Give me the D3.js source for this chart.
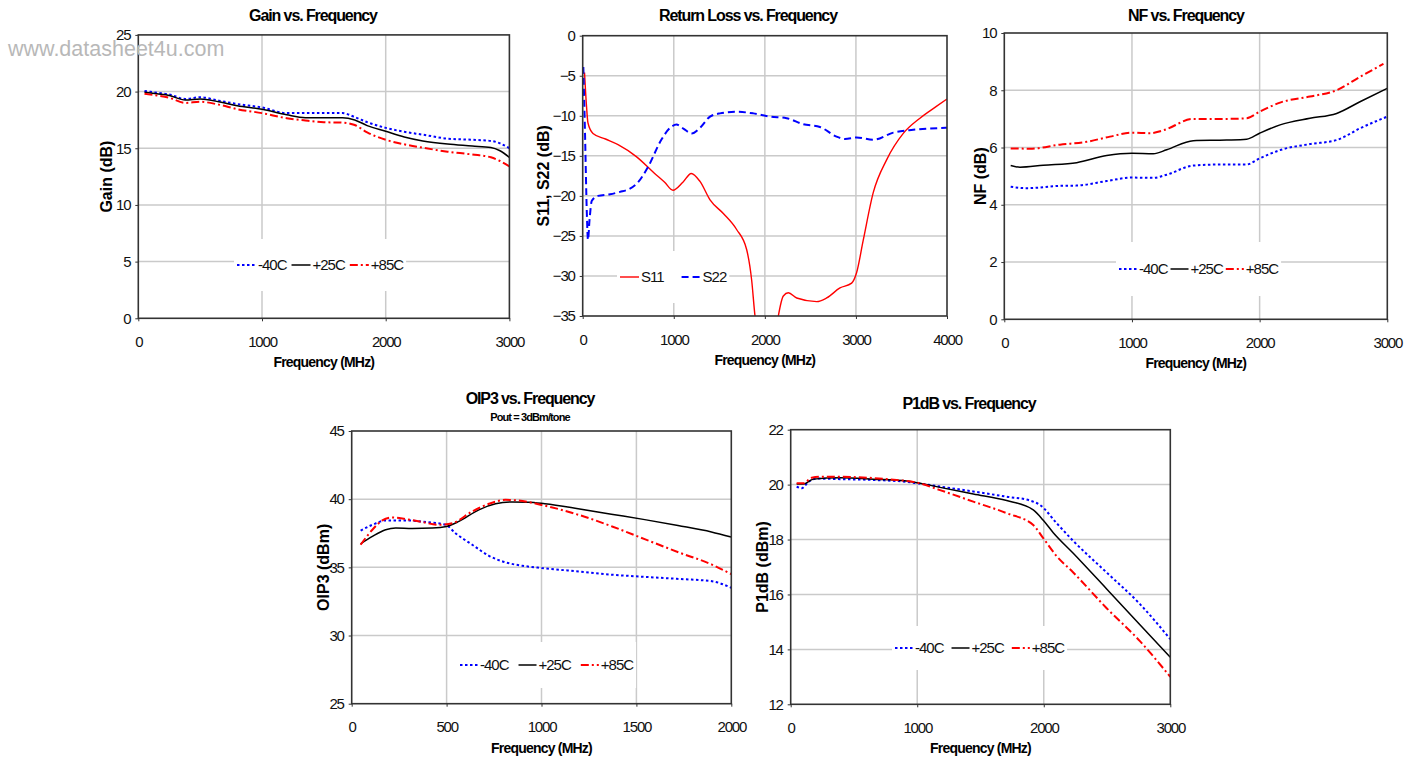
<!DOCTYPE html>
<html><head><meta charset="utf-8">
<script src="https://cdn.jsdelivr.net/npm/d3@7"></script>
<style>
body{margin:0;background:#fff}
svg{display:block}
text{font-family:"Liberation Sans",Arial,Helvetica,sans-serif}
</style>
</head><body>
<svg id="c" width="1414" height="760"></svg>
<script>
// ---------- DATA ----------
// Gain vs Frequency
const gainFreq = [50,150,250,380,500,650,800,1000,1200,1350,1500,1650,1750,1850,2000,2150,2300,2500,2700,2850,2920,3000];
const gainM40  = [20.05,19.9,19.75,19.35,19.5,19.2,18.9,18.6,18.1,18.1,18.1,18.1,17.75,17.3,16.8,16.45,16.2,15.85,15.75,15.65,15.45,15.0];
const gainP25  = [19.95,19.8,19.65,19.26,19.35,19.1,18.75,18.44,17.95,17.7,17.7,17.7,17.5,17.0,16.5,16.0,15.65,15.37,15.2,15.06,14.8,14.2];
const gainP85  = [19.8,19.65,19.45,19.0,19.1,18.85,18.45,18.1,17.65,17.45,17.3,17.26,17.05,16.4,15.75,15.35,15.05,14.7,14.45,14.2,13.9,13.4];
const gainXTicks = [0,1000,2000,3000];
const gainYTicks = [0,5,10,15,20,25];

// Return loss
const s11Freq = [20,40,58,113,250,388,589,790,900,991,1100,1192,1288,1398,1544,1690,1800,1855,1892,1950,2050,2120,2148,2203,2258,2350,2569,2678,2825,2953,3007,3081,3190,3337,3520,3703,3887,4000];
const s11Val  = [-4.6,-8.5,-10.9,-12.2,-12.9,-13.6,-15.1,-17.2,-18.3,-19.3,-18.3,-17.2,-18.2,-20.5,-22.2,-24.2,-26.7,-30.5,-35,-38,-40,-37,-35,-32.5,-32.1,-32.75,-33.2,-32.75,-31.5,-30.9,-29.6,-25.5,-19.6,-15.5,-12.2,-10.3,-8.8,-7.9];
const s22Freq = [7,25,45,58,75,100,168,300,410,500,600,717,863,960,1030,1105,1196,1288,1398,1507,1690,1873,2056,2239,2422,2605,2788,2880,3007,3190,3410,3630,4000];
const s22Val  = [-3.9,-12,-22,-25.5,-23,-20.6,-20.0,-19.8,-19.5,-19.2,-18.4,-16.4,-13.0,-11.5,-11.1,-11.6,-12.2,-11.5,-10.1,-9.7,-9.5,-9.7,-10.1,-10.3,-11.05,-11.4,-12.6,-12.9,-12.7,-13.0,-12.1,-11.75,-11.5];
const rlXTicks = [0,1000,2000,3000,4000];
const rlYTicks = [-35,-30,-25,-20,-15,-10,-5,0];

// NF
const nfFreqM40 = [50,175,436,567,802,1000,1167,1272,1480,1741,1898,2000,2160,2394,2603,2786,3000];
const nfM40     = [4.63,4.58,4.66,4.67,4.83,4.95,4.94,5.05,5.37,5.41,5.41,5.62,5.91,6.12,6.26,6.67,7.08];
const nfFreqP25 = [50,123,305,567,802,1000,1167,1272,1480,1741,1898,2000,2160,2394,2603,2786,3000];
const nfP25     = [5.37,5.31,5.38,5.47,5.72,5.8,5.78,5.92,6.24,6.26,6.29,6.5,6.79,7.02,7.19,7.6,8.07];
const nfFreqP85 = [50,200,436,645,828,1000,1140,1245,1480,1741,1898,2000,2160,2394,2603,2786,2970];
const nfP85     = [5.97,5.96,6.1,6.2,6.38,6.52,6.5,6.6,7.0,7.0,7.02,7.25,7.57,7.78,8.0,8.47,8.92];
const nfXTicks = [0,1000,2000,3000];
const nfYTicks = [0,2,4,6,8,10];

// OIP3
const oipFreqM40 = [47,109,179,284,407,495,547,635,723,810,898,1000,1196,1372,1547,1723,1898,2000];
const oipM40     = [37.7,38.12,38.44,38.44,38.3,38.12,37.5,36.66,35.85,35.37,35.12,34.95,34.7,34.46,34.3,34.15,33.98,33.5];
const oipFreqP25 = [47,109,179,232,319,425,500,565,670,758,846,933,1018,1193,1368,1544,1719,1895,2000];
const oipP25     = [36.73,37.27,37.76,37.88,37.85,37.88,38.0,38.37,39.22,39.66,39.8,39.78,39.66,39.3,38.9,38.5,38.07,37.6,37.22];
const oipFreqP85 = [47,109,161,214,284,372,460,530,635,723,810,881,1000,1196,1372,1547,1723,1898,2000];
const oipP85     = [36.66,37.76,38.44,38.66,38.54,38.32,38.12,38.24,39.1,39.66,39.95,39.9,39.58,38.85,38.0,37.05,36.1,35.2,34.5];
const oipXTicks = [0,500,1000,1500,2000];
const oipYTicks = [25,30,35,40,45];

// P1dB
const p1FreqM40 = [47,87,140,205,390,653,917,1000,1180,1443,1707,1891,1970,2101,2233,2497,2760,3000];
const p1M40     = [19.93,19.87,20.1,20.22,20.2,20.17,20.1,20.05,19.93,19.75,19.56,19.42,19.26,18.6,17.95,16.8,15.65,14.37];
const p1FreqP25 = [47,100,179,390,653,917,1000,1180,1443,1707,1917,1996,2075,2233,2497,2760,3000];
const p1P25     = [20.02,20.02,20.2,20.25,20.2,20.13,20.07,19.9,19.66,19.42,19.08,18.7,18.25,17.5,16.2,14.9,13.71];
const p1FreqP85 = [47,100,166,258,521,785,1000,1180,1443,1707,1917,1996,2101,2233,2497,2760,3000];
const p1P85     = [20.05,20.05,20.25,20.29,20.27,20.19,20.07,19.8,19.38,18.96,18.53,18.05,17.4,16.8,15.5,14.3,13.0];
const p1XTicks = [0,1000,2000,3000];
const p1YTicks = [12,14,16,18,20,22];

const tempLabels = ["-40C","+25C","+85C"];
const rlLabels = ["S11","S22"];

// ---------- STYLES ----------
const BLUE = "#0000ff", RED = "#ff0000", BLACK = "#000000";
const stM40 = {color:BLUE, dash:"2.5,2.5", width:2};
const stP25 = {color:BLACK, dash:null, width:1.5};
const stP85 = {color:RED, dash:"8,3,2,3", width:2};
const stS11 = {color:RED, dash:null, width:1.4};
const stS22 = {color:BLUE, dash:"7,4", width:2};

const svg = d3.select("#c");
let clipId = 0;

function chart(cfg){
  const {l,r,t,b} = cfg.box;
  const x = d3.scaleLinear().domain(cfg.xDomain).range([l,r]);
  const y = d3.scaleLinear().domain(cfg.yDomain).range([b,t]);
  const g = svg.append("g");

  // gridlines
  g.append("g").selectAll("line").data(cfg.xTicks.filter(v=>v!==cfg.xDomain[0]&&v!==cfg.xDomain[1])).join("line")
    .attr("x1",d=>x(d)).attr("x2",d=>x(d)).attr("y1",t).attr("y2",b)
    .attr("stroke","#cacaca").attr("stroke-width",1.5);
  g.append("g").selectAll("line").data(cfg.yTicks.filter(v=>v!==cfg.yDomain[0]&&v!==cfg.yDomain[1])).join("line")
    .attr("x1",l).attr("x2",r).attr("y1",d=>y(d)).attr("y2",d=>y(d))
    .attr("stroke","#cacaca").attr("stroke-width",1.5);

  // legend (white box on top of gridlines)
  const lg = g.append("g");
  const boxRect = lg.append("rect").attr("fill","#fff");
  let cx = cfg.legend.x0;
  const cy = cfg.legend.cy;
  cfg.legend.items.forEach((it)=>{
    const ln = cfg.legend.len;
    lg.append("line").attr("x1",cx).attr("x2",cx+ln).attr("y1",cy).attr("y2",cy)
      .attr("stroke",it.style.color).attr("stroke-width",it.style.width)
      .attr("stroke-dasharray",it.style.dash);
    const tx = lg.append("text").attr("x",cx+ln+2).attr("y",cy).attr("dy","0.35em")
      .attr("font-size",15).attr("letter-spacing","-1px").attr("fill","#111").text(it.label);
    const w = tx.node().getComputedTextLength();
    cx = cx+ln+2+w+cfg.legend.gap;
  });
  const lEnd = cx - cfg.legend.gap;
  boxRect.attr("x",cfg.legend.x0-3).attr("y",cy-cfg.legend.half).attr("width",lEnd-cfg.legend.x0+6).attr("height",cfg.legend.half*2);

  // clip
  const id = "clip"+(clipId++);
  svg.append("clipPath").attr("id",id).append("rect").attr("x",l).attr("y",t).attr("width",r-l).attr("height",b-t);

  // series
  const lineGen = d3.line().x(d=>x(d[0])).y(d=>y(d[1])).curve(d3.curveMonotoneX);
  const sg = g.append("g").attr("clip-path",`url(#${id})`);
  cfg.series.forEach(s=>{
    sg.append("path").datum(d3.zip(s.x,s.y)).attr("d",lineGen).attr("fill","none")
      .attr("stroke",s.style.color).attr("stroke-width",s.style.width)
      .attr("stroke-dasharray",s.style.dash).attr("stroke-linejoin","round");
  });

  // frame
  g.append("rect").attr("x",l).attr("y",t).attr("width",r-l).attr("height",b-t)
    .attr("fill","none").attr("stroke","#333").attr("stroke-width",1.6);

  // axes
  const ax = g.append("g").attr("transform",`translate(0,${b})`)
    .call(d3.axisBottom(x).tickValues(cfg.xTicks).tickFormat(d3.format("d")).tickSize(3).tickSizeOuter(0).tickPadding(15));
  const ay = g.append("g").attr("transform",`translate(${l},0)`)
    .call(d3.axisLeft(y).tickValues(cfg.yTicks).tickFormat(d3.format("d")).tickSize(3).tickSizeOuter(0).tickPadding(5));
  [ax,ay].forEach(a=>{
    a.select(".domain").remove();
    a.selectAll(".tick line").attr("stroke","#333");
    a.selectAll("text").attr("font-size",15).attr("letter-spacing","-1.2px").attr("fill","#111")
      .attr("font-family",'"Liberation Sans",Arial,sans-serif');
  });

  // titles
  g.append("text").attr("x",cfg.titleX).attr("y",cfg.titleY).attr("dy","0.35em").attr("text-anchor","middle")
    .attr("font-size",16).attr("font-weight","bold").attr("letter-spacing","-1.1px").text(cfg.title);
  if(cfg.subtitle){
    g.append("text").attr("x",cfg.titleX).attr("y",cfg.titleY+19).attr("dy","0.35em").attr("text-anchor","middle")
      .attr("font-size",11).attr("font-weight","bold").attr("letter-spacing","-0.9px").text(cfg.subtitle);
  }
  g.append("text").attr("x",(l+r)/2).attr("y",b+44).attr("dy","0.35em").attr("text-anchor","middle")
    .attr("font-size",14).attr("font-weight","bold").attr("letter-spacing","-0.8px").text("Frequency (MHz)");
  g.append("text").attr("transform",`translate(${cfg.yTitleX},${(t+b)/2}) rotate(-90)`).attr("dy","0.35em")
    .attr("text-anchor","middle").attr("font-size",16).attr("font-weight","bold").text(cfg.yTitle);
}

const tempItems = [
  {label:tempLabels[0], style:stM40},
  {label:tempLabels[1], style:stP25},
  {label:tempLabels[2], style:stP85}
];

chart({
  box:{l:138.3,r:509.4,t:34.9,b:318.3}, xDomain:[0,3000], yDomain:[0,25],
  xTicks:gainXTicks, yTicks:gainYTicks,
  title:"Gain vs. Frequency", titleX:313, titleY:15, yTitle:"Gain (dB)", yTitleX:106,
  series:[{x:gainFreq,y:gainM40,style:stM40},{x:gainFreq,y:gainP25,style:stP25},{x:gainFreq,y:gainP85,style:stP85}],
  legend:{x0:237,cy:265,len:19,gap:5,half:26,items:tempItems}
});

chart({
  box:{l:582.7,r:947,t:35.7,b:316}, xDomain:[0,4000], yDomain:[-35,0],
  xTicks:rlXTicks, yTicks:rlYTicks,
  title:"Return Loss vs. Frequency", titleX:748, titleY:15, yTitle:"S11, S22 (dB)", yTitleX:543,
  series:[{x:s11Freq,y:s11Val,style:stS11},{x:s22Freq,y:s22Val,style:stS22}],
  legend:{x0:620,cy:277,len:19,gap:18,half:26,items:[{label:rlLabels[0],style:stS11},{label:rlLabels[1],style:stS22}]}
});

chart({
  box:{l:1004.3,r:1387.3,t:33,b:319.3}, xDomain:[0,3000], yDomain:[0,10],
  xTicks:nfXTicks, yTicks:nfYTicks,
  title:"NF vs. Frequency", titleX:1186, titleY:15, yTitle:"NF (dB)", yTitleX:980,
  series:[{x:nfFreqM40,y:nfM40,style:stM40},{x:nfFreqP25,y:nfP25,style:stP25},{x:nfFreqP85,y:nfP85,style:stP85}],
  legend:{x0:1119,cy:269,len:18,gap:3,half:27,items:tempItems}
});

chart({
  box:{l:351.7,r:731.3,t:431,b:703.7}, xDomain:[0,2000], yDomain:[25,45],
  xTicks:oipXTicks, yTicks:oipYTicks,
  title:"OIP3 vs. Frequency", subtitle:"Pout = 3dBm/tone", titleX:530, titleY:398, yTitle:"OIP3 (dBm)", yTitleX:323,
  series:[{x:oipFreqM40,y:oipM40,style:stM40},{x:oipFreqP25,y:oipP25,style:stP25},{x:oipFreqP85,y:oipP85,style:stP85}],
  legend:{x0:460,cy:665,len:18,gap:10,half:23,items:tempItems}
});

chart({
  box:{l:790.7,r:1170.3,t:429.7,b:704.3}, xDomain:[0,3000], yDomain:[12,22],
  xTicks:p1XTicks, yTicks:p1YTicks,
  title:"P1dB vs. Frequency", titleX:969, titleY:403, yTitle:"P1dB (dBm)", yTitleX:762,
  series:[{x:p1FreqM40,y:p1M40,style:stM40},{x:p1FreqP25,y:p1P25,style:stP25},{x:p1FreqP85,y:p1P85,style:stP85}],
  legend:{x0:895,cy:648,len:18,gap:8,half:22,items:tempItems}
});

// watermark
svg.append("text").attr("x",8).attr("y",48).attr("dy","0.35em").attr("font-size",21.5)
  .attr("fill","#b8b8b8").text("www.datasheet4u.com");
</script>
</body></html>
